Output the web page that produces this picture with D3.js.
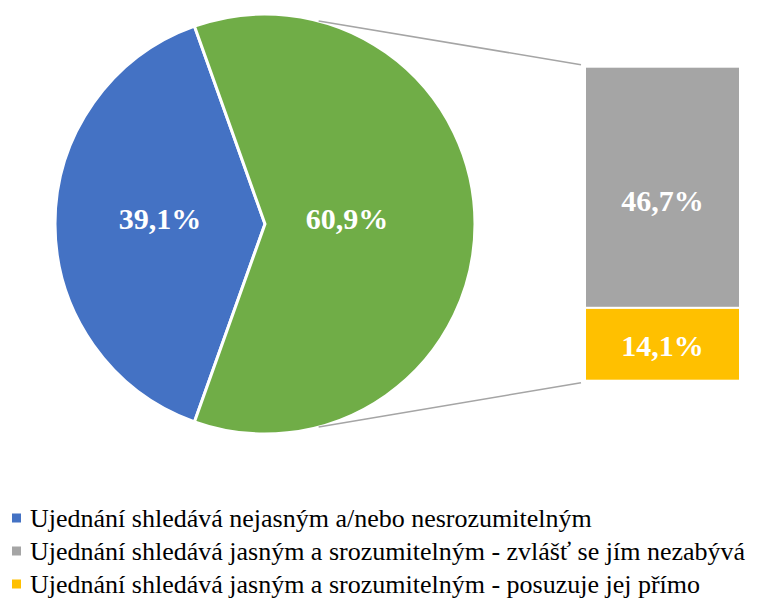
<!DOCTYPE html>
<html>
<head>
<meta charset="utf-8">
<script src="https://cdn.jsdelivr.net/npm/d3@7"></script>
<style>
  body { margin: 0; background: #fff; }
  svg text { font-family: "Times New Roman", Tinos, "Liberation Serif", FreeSerif, serif; }
</style>
</head>
<body>
<svg id="chart" width="764" height="599"></svg>
<script>
// pie of pie: main pie, second slice split into a bar
var pieNames = ["Ujednání shledává nejasným a/nebo nesrozumitelným", "Ujednání shledává jasným a srozumitelným"];
var pieValues = [39.1, 60.9];
var pieColors = ["#4472c4", "#70ad47"];

var barNames = ["Ujednání shledává jasným a srozumitelným - zvlášť se jím nezabývá", "Ujednání shledává jasným a srozumitelným - posuzuje jej přímo"];
var barValues = [46.7, 14.1];
var barColors = ["#a5a5a5", "#ffc000"];

var legendNames = [pieNames[0], barNames[0], barNames[1]];
var legendColors = [pieColors[0], barColors[0], barColors[1]];

var fmt = function(v) { return v.toFixed(1).replace(".", ",") + "%"; };

var svg = d3.select("#chart"),
    cx = 265, cy = 224, r = 210;

var g = svg.append("g").attr("transform", "translate(" + cx + "," + cy + ")");

// first slice centred on the left side
var firstAngle = pieValues[0] / d3.sum(pieValues) * 2 * Math.PI;
var pie = d3.pie()
    .sort(null)
    .startAngle(1.5 * Math.PI - firstAngle / 2)
    .endAngle(1.5 * Math.PI - firstAngle / 2 + 2 * Math.PI);

var arc = d3.arc().innerRadius(0).outerRadius(r);
var arcs = pie(pieValues);

// connector lines from the pie edge to the bar
var x = d3.scaleLinear().range([585, 740]);
var y = d3.scaleLinear()
    .domain([0, d3.sum(barValues)])
    .range([380.7, 66.7]);

var connA = 14.8 * Math.PI / 180, connB = Math.PI - connA;
svg.append("line")
    .attr("x1", cx + r * Math.sin(connA)).attr("y1", cy - r * Math.cos(connA))
    .attr("x2", 581).attr("y2", y(d3.sum(barValues)) - 2)
    .attr("stroke", "#a5a5a5").attr("stroke-width", 1.5);
svg.append("line")
    .attr("x1", cx + r * Math.sin(connB)).attr("y1", cy - r * Math.cos(connB))
    .attr("x2", 581).attr("y2", y(0) + 2)
    .attr("stroke", "#a5a5a5").attr("stroke-width", 1.5);

g.selectAll("path.slice")
    .data(arcs)
  .enter().append("path")
    .attr("class", "slice")
    .attr("d", arc)
    .attr("fill", function(d, i) { return pieColors[i]; })
    .attr("stroke", "#fff")
    .attr("stroke-width", 3)
    .attr("stroke-linejoin", "miter");

var labelR = [0.5, 0.39];
g.selectAll("text.plabel")
    .data(arcs)
  .enter().append("text")
    .attr("class", "plabel")
    .attr("x", function(d, i) { var a = (d.startAngle + d.endAngle) / 2; return Math.sin(a) * r * labelR[i]; })
    .attr("y", function(d, i) { var a = (d.startAngle + d.endAngle) / 2; return -Math.cos(a) * r * labelR[i]; })
    .attr("dy", "0.18em")
    .attr("text-anchor", "middle")
    .attr("fill", "#fff")
    .attr("font-weight", "bold")
    .attr("font-size", "30px")
    .text(function(d) { return fmt(d.data); });

// stacked bar
var stack = [];
var acc = d3.sum(barValues);
barValues.forEach(function(v, i) {
  stack.push({ value: v, top: acc, bottom: acc - v, color: barColors[i] });
  acc -= v;
});

svg.selectAll("rect.bar")
    .data(stack)
  .enter().append("rect")
    .attr("class", "bar")
    .attr("x", x(0))
    .attr("width", x(1) - x(0))
    .attr("y", function(d) { return y(d.top); })
    .attr("height", function(d) { return y(d.bottom) - y(d.top); })
    .attr("fill", function(d) { return d.color; })
    .attr("stroke", "#fff")
    .attr("stroke-width", 2);

var labelShift = [13, 1];
svg.selectAll("text.blabel")
    .data(stack)
  .enter().append("text")
    .attr("class", "blabel")
    .attr("x", (x(0) + x(1)) / 2)
    .attr("y", function(d, i) { return (y(d.top) + y(d.bottom)) / 2 + labelShift[i]; })
    .attr("dy", "0.35em")
    .attr("text-anchor", "middle")
    .attr("fill", "#fff")
    .attr("font-weight", "bold")
    .attr("font-size", "30px")
    .text(function(d) { return fmt(d.value); });

// legend
var legend = svg.selectAll("g.legend")
    .data(legendNames)
  .enter().append("g")
    .attr("class", "legend")
    .attr("transform", function(d, i) { return "translate(12," + (518 + i * 33) + ")"; });

legend.append("rect")
    .attr("x", 0).attr("y", -4.5)
    .attr("width", 9).attr("height", 9)
    .attr("fill", function(d, i) { return legendColors[i]; });

legend.append("text")
    .attr("x", 18)
    .attr("dy", "0.33em")
    .attr("font-size", "26px")
    .attr("fill", "#000")
    .text(function(d) { return d; });
</script>
</body>
</html>
